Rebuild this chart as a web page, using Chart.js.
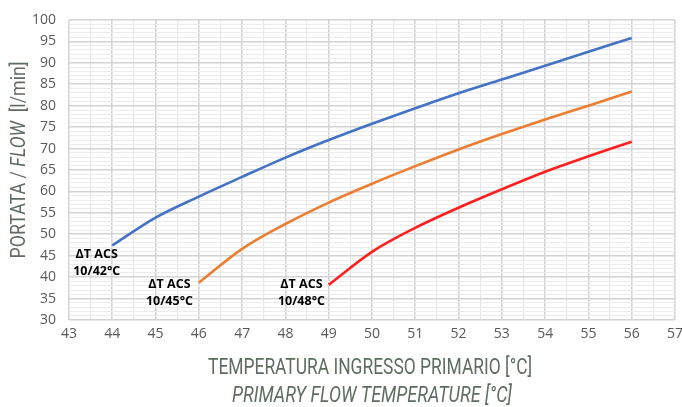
<!DOCTYPE html>
<html>
<head>
<meta charset="utf-8">
<script src="https://cdn.jsdelivr.net/npm/chart.js@4/dist/chart.umd.min.js"></script>
<style>
  html, body { margin: 0; padding: 0; background: #fff; }
  #wrap { width: 682px; height: 407px; position: relative; }
</style>
</head>
<body>
<div id="wrap"><canvas id="grafico"></canvas></div>
<script>
// Dati
const tempBlu = [44, 45, 46, 47, 48, 49, 50, 51, 52, 53, 54, 55, 56];
const portataBlu = [47.4, 53.9, 58.8, 63.4, 67.9, 72.0, 75.8, 79.4, 82.9, 86.1, 89.3, 92.6, 95.8];

const tempArancio = [46, 47, 48, 49, 50, 51, 52, 53, 54, 55, 56];
const portataArancio = [38.7, 46.6, 52.4, 57.4, 61.8, 65.9, 69.8, 73.4, 76.8, 80.0, 83.3];

const tempRosso = [49, 50, 51, 52, 53, 54, 55, 56];
const portataRosso = [38.2, 45.9, 51.5, 56.2, 60.5, 64.6, 68.2, 71.6];

const etichette = ["ΔT ACS 10/42°C", "ΔT ACS 10/45°C", "ΔT ACS 10/48°C"];
const etichetteX = [43.64, 45.32, 48.37];
const etichetteY = [45.4, 38.2, 38.2];

const xMin = 43, xMax = 57, yMin = 30, yMax = 100;

const coloreTitolo = "#5f6d61";

function punti(xs, ys) {
    return xs.map((x, i) => ({ x: x, y: ys[i] }));
}

function serie(xs, ys, colore) {
    return {
        data: punti(xs, ys),
        borderColor: colore,
        backgroundColor: colore,
        borderWidth: 2.6,
        pointRadius: 0,
        showLine: true,
        cubicInterpolationMode: "monotone",
        fill: false
    };
}

// Testo condensato (scala orizzontale) per i titoli degli assi
function testoCondensato(ctx, parti, cx, cy, larghezza, ruota) {
    ctx.save();
    ctx.translate(cx, cy);
    if (ruota) ctx.rotate(-Math.PI / 2);
    let tot = 0;
    parti.forEach(p => { ctx.font = p.font; tot += ctx.measureText(p.t).width; });
    const k = larghezza / tot;
    ctx.scale(k, 1);
    ctx.fillStyle = coloreTitolo;
    ctx.textBaseline = "middle";
    ctx.textAlign = "left";
    let x = -tot / 2;
    parti.forEach(p => {
        ctx.font = p.font;
        ctx.fillText(p.t, x, 0);
        x += ctx.measureText(p.t).width;
    });
    ctx.restore();
}

const pluginTesti = {
    id: "testi",
    afterDraw(chart) {
        const ctx = chart.ctx;
        const sx = chart.scales.x, sy = chart.scales.y;

        // etichette delle curve
        ctx.save();
        ctx.fillStyle = "#000";
        ctx.font = "bold 12.5px 'Open Sans'";
        ctx.textAlign = "center";
        ctx.textBaseline = "middle";
        etichette.forEach((e, i) => {
            const px = sx.getPixelForValue(etichetteX[i]);
            const py = sy.getPixelForValue(etichetteY[i]);
            const righe = [e.slice(0, 6), e.slice(7)];
            ctx.fillText(righe[0], px, py);
            ctx.fillText(righe[1], px, py + 17);
        });
        ctx.restore();

        // titolo asse X
        testoCondensato(ctx, [{ t: "TEMPERATURA INGRESSO PRIMARIO [°C]", font: "22px Roboto" }],
            370, 368, 324, false);
        testoCondensato(ctx, [{ t: "PRIMARY FLOW TEMPERATURE [°C]", font: "italic 22px Roboto" }],
            372, 396, 280, false);

        // titolo asse Y
        testoCondensato(ctx, [
            { t: "PORTATA / ", font: "21px Roboto" },
            { t: "FLOW", font: "italic 21px Roboto" },
            { t: "  [l/min]", font: "21px Roboto" }
        ], 20, 160, 197, true);
    }
};

const ctx = document.getElementById("grafico").getContext("2d");
new Chart(ctx, {
    type: "scatter",
    data: {
        datasets: [
            serie(tempBlu, portataBlu, "#4472C4"),
            serie(tempArancio, portataArancio, "#ED7D31"),
            serie(tempRosso, portataRosso, "#FF1F1F")
        ]
    },
    options: {
        responsive: true,
        maintainAspectRatio: false,
        animation: false,
        layout: { padding: { left: 0, right: 7, top: 20, bottom: 0 } },
        plugins: {
            legend: { display: false },
            tooltip: { enabled: false }
        },
        scales: {
            x: {
                type: "linear",
                min: xMin,
                max: xMax,
                border: { display: false },
                ticks: {
                    stepSize: 0.5,
                    autoSkip: false,
                    maxRotation: 0,
                    padding: 6,
                    color: "#595959",
                    font: { family: "'Open Sans'", size: 14 },
                    callback: v => (Number.isInteger(v) ? v : "")
                },
                grid: {
                    drawTicks: false,
                    color: c => (Number.isInteger(c.tick.value) ? "#d4d4d4" : "#e8e8e8"),
                    lineWidth: c => (Number.isInteger(c.tick.value) ? 1.6 : 1.2)
                },
                afterFit(scale) {
                    scale.height = 87;
                    scale.paddingLeft = 0;
                    scale.paddingRight = 0;
                }
            },
            y: {
                type: "linear",
                min: yMin,
                max: yMax,
                border: { display: false },
                ticks: {
                    stepSize: 1,
                    autoSkip: false,
                    padding: 13,
                    color: "#595959",
                    font: { family: "'Open Sans'", size: 14 },
                    callback: v => (v % 5 === 0 ? v : "")
                },
                grid: {
                    drawTicks: false,
                    color: c => (c.tick.value % 5 === 0 ? "#d4d4d4" : "#ececec"),
                    lineWidth: c => (c.tick.value % 5 === 0 ? 1.6 : 1)
                },
                afterFit(scale) {
                    scale.width = 69;
                    scale.paddingTop = 0;
                    scale.paddingBottom = 0;
                }
            }
        }
    },
    plugins: [pluginTesti]
});
</script>
</body>
</html>
